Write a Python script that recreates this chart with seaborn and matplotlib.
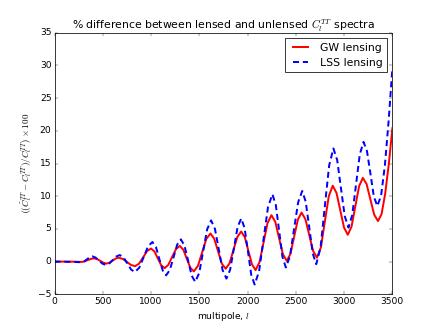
import matplotlib
matplotlib.use("Agg")
import matplotlib.pyplot as plt
import seaborn as sns
import pandas as pd

# multipole positions and % differences
l_gw = [0, 100, 200, 280, 312, 345, 378, 410, 442, 475, 508, 540, 571, 602, 634, 665,
        707, 750, 792, 835, 876, 918, 959, 1000, 1035, 1070, 1105, 1140, 1179, 1218, 1258, 1297,
        1334, 1370, 1407, 1443, 1486, 1529, 1572, 1615, 1654, 1694, 1733, 1773, 1813, 1853, 1894, 1934,
        1971, 2008, 2046, 2083, 2124, 2165, 2206, 2247, 2287, 2326, 2366, 2406, 2444, 2482, 2521, 2559,
        2599, 2639, 2679, 2719, 2760, 2800, 2841, 2882, 2921, 2960, 2999, 3038, 3077, 3116, 3155, 3194,
        3233, 3272, 3312, 3351, 3388, 3425, 3463, 3500]
gw = [0.0, 0.0, -0.01, -0.05, 0.03, 0.23, 0.42, 0.5, 0.38, 0.1, -0.18, -0.3, -0.17, 0.15, 0.47, 0.6,
      0.41, -0.05, -0.51, -0.7, -0.31, 0.65, 1.61, 2.0, 1.56, 0.5, -0.56, -1.0, -0.5, 0.7, 1.9, 2.4,
      1.83, 0.45, -0.93, -1.5, -0.65, 1.4, 3.45, 4.3, 3.51, 1.6, -0.31, -1.1, -0.27, 1.75, 3.77, 4.6,
      3.74, 1.65, -0.44, -1.3, -0.07, 2.9, 5.87, 7.1, 6.08, 3.6, 1.12, 0.1, 1.18, 3.8, 6.42, 7.5,
      6.49, 4.05, 1.61, 0.6, 2.21, 6.1, 9.99, 11.6, 10.5, 7.85, 5.2, 4.1, 5.37, 8.45, 11.53, 12.8,
      11.84, 9.5, 7.16, 6.2, 7.28, 10.36, 14.96, 20.4]

l_lss = [0, 100, 200, 280, 308, 336, 364, 392, 426, 461, 496, 530, 567, 604, 640, 677,
         716, 755, 794, 833, 878, 924, 969, 1014, 1050, 1085, 1121, 1156, 1194, 1233, 1271, 1309,
         1346, 1384, 1421, 1458, 1499, 1540, 1581, 1622, 1662, 1702, 1741, 1781, 1819, 1858, 1896, 1934,
         1969, 2004, 2038, 2073, 2119, 2165, 2211, 2257, 2292, 2327, 2361, 2396, 2439, 2481, 2524, 2566,
         2602, 2639, 2675, 2711, 2756, 2800, 2845, 2889, 2928, 2967, 3006, 3045, 3084, 3123, 3162, 3201,
         3237, 3273, 3308, 3344, 3383, 3422, 3461, 3500]
lss = [0.0, -0.02, -0.05, -0.1, 0.03, 0.35, 0.67, 0.8, 0.61, 0.15, -0.31, -0.5, -0.28, 0.25, 0.78, 1.0,
       0.62, -0.3, -1.22, -1.6, -0.93, 0.7, 2.33, 3.0, 2.26, 0.45, -1.36, -2.1, -1.3, 0.65, 2.6, 3.4,
       2.45, 0.15, -2.15, -3.1, -1.73, 1.6, 4.93, 6.3, 5.0, 1.85, -1.3, -2.6, -1.26, 2.0, 5.26, 6.6,
       5.13, 1.55, -2.03, -3.5, -1.49, 3.4, 8.29, 10.3, 8.67, 4.7, 0.74, -0.9, 0.81, 4.95, 9.09, 10.8,
       9.17, 5.2, 1.24, -0.4, 2.18, 8.45, 14.72, 17.3, 15.53, 11.25, 6.97, 5.2, 7.11, 11.75, 16.39, 18.3,
       16.87, 13.4, 9.93, 8.5, 10.1, 14.68, 21.52, 29.6]

labels = ["GW lensing", "LSS lensing"]
xticks = [0, 500, 1000, 1500, 2000, 2500, 3000, 3500]
yticks = [-5, 0, 5, 10, 15, 20, 25, 30, 35]

plt.style.use("classic")
plt.rcParams.update({
    "figure.facecolor": "white",
    "savefig.facecolor": "white",
    "mathtext.fontset": "cm",
    "lines.scale_dashes": False,
})

df_gw = pd.DataFrame({"l": l_gw, "v": gw})
df_lss = pd.DataFrame({"l": l_lss, "v": lss})

fig, ax = plt.subplots(figsize=(8, 6), dpi=54.5)
fig.subplots_adjust(left=0.125, right=0.9, bottom=0.1, top=0.9)

sns.lineplot(data=df_gw, x="l", y="v", ax=ax, color="red", lw=2.6,
             label=labels[0], sort=False, estimator=None)
sns.lineplot(data=df_lss, x="l", y="v", ax=ax, color="blue", lw=2.6,
             linestyle=(0, (8, 5)), label=labels[1], sort=False, estimator=None)

ax.set_xlim(0, 3500)
ax.set_ylim(-5, 35)
ax.set_xticks(xticks)
ax.set_yticks(yticks)
ax.set_xlabel(r"multipole, $l$", fontsize=12)
ax.set_ylabel(r"$\left((\tilde{C}_l^{TT}-C_l^{TT})/C_l^{TT}\right)\times 100$", fontsize=12)
ax.set_title(r"% difference between lensed and unlensed $C_l^{TT}$ spectra", fontsize=14.4)
ax.legend(loc="upper right", fontsize=14.4, handlelength=2.0, fancybox=False)

fig.savefig("out.png", dpi=54.5)
